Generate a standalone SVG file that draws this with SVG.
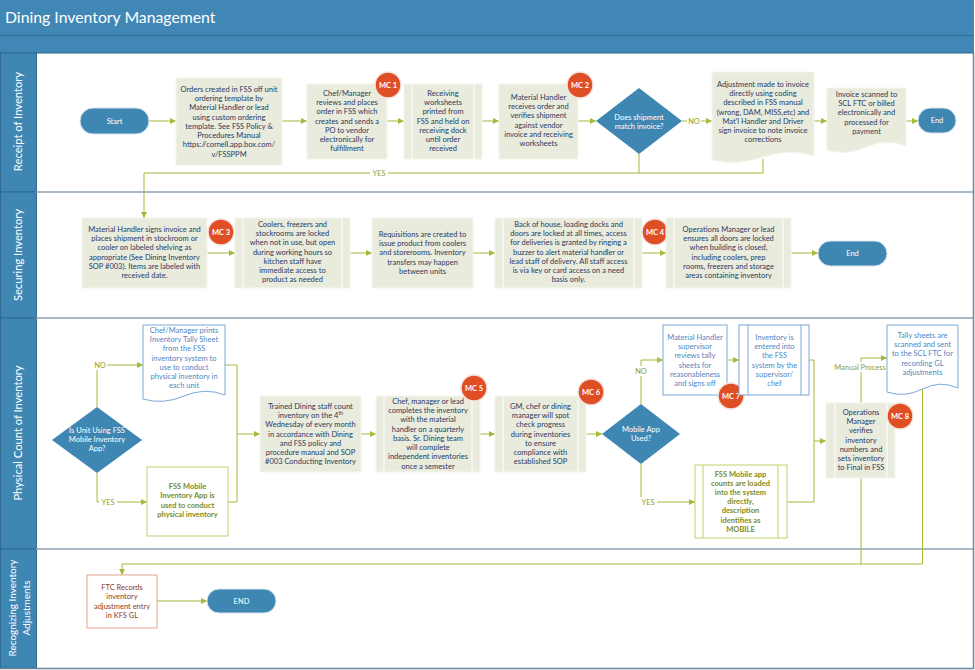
<svg xmlns="http://www.w3.org/2000/svg" width="975" height="670" viewBox="0 0 975 670">
<defs>
<marker id="ah" viewBox="0 0 6 6" refX="6" refY="3" markerWidth="6" markerHeight="6" orient="auto" markerUnits="userSpaceOnUse"><path d="M0,0 L6,3 L0,6 z" fill="#a4ba38"/></marker>
<style>
text{font-family:Lato,"Liberation Sans",sans-serif}
.t{font-size:7.5px;fill:#2c3a5e;text-anchor:middle}
.tw{font-size:7.5px;fill:#fff;text-anchor:middle}
.tb{font-size:7.5px;fill:#4f86bf;text-anchor:middle}
.tg{font-size:7.5px;fill:#7d8c1c;text-anchor:middle;font-weight:bold}
.tr{font-size:7.5px;fill:#8e3a25;text-anchor:middle}
.lbl{font-size:7.5px;fill:#8fa12a;text-anchor:middle}
.box{fill:#e9ebdd;stroke:#f4f5ee;stroke-width:1}
.inw{stroke:#fff;stroke-width:1}
.bbox{fill:#fff;stroke:#7aa8d4;stroke-width:1}
.gbox{fill:#fff;stroke:#c3cf6f;stroke-width:1}
.rbox{fill:#fff;stroke:#e7a48e;stroke-width:1}
.term{fill:#3f87b3;stroke:#d4e3ee;stroke-width:1}
.dia{fill:#3f87b3}
.mc{fill:#e04e26;stroke:#f3e3dc;stroke-width:1.5}
.mct{font-size:7.5px;fill:#fff;text-anchor:middle;font-weight:bold}
.cn{fill:none;stroke:#a4ba38;stroke-width:1}
.lane{fill:#3f87b3;stroke:#2e6a92;stroke-width:1}
.sep{stroke:#8ea2b2;stroke-width:1.5}
.lt{font-size:11.2px;fill:#fff;text-anchor:middle}
.lbg{fill:#fff}
</style>
</defs>
<rect width="975" height="670" fill="#fff"/>
<g id="frame">
<rect x="0" y="0" width="974" height="53" fill="#4187b5"/>
<line x1="0" y1="35.5" x2="974" y2="35.5" stroke="#2e6a92" stroke-width="1"/>
<line x1="0" y1="53" x2="974" y2="53" stroke="#2e6a92" stroke-width="1"/>
<text x="5" y="23" font-size="15.8" fill="#fff">Dining Inventory Management</text>
<rect x="0.5" y="53" width="36" height="139" class="lane"/>
<rect x="0.5" y="192" width="36" height="126" class="lane"/>
<rect x="0.5" y="318" width="36" height="231" class="lane"/>
<rect x="0.5" y="549" width="36" height="119" class="lane"/>
<line x1="36" y1="192" x2="974" y2="192" class="sep"/>
<line x1="36" y1="318" x2="974" y2="318" class="sep"/>
<line x1="36" y1="549" x2="974" y2="549" class="sep"/>
<line x1="973.5" y1="53" x2="973.5" y2="669" stroke="#6b8599" stroke-width="1.5"/>
<line x1="0" y1="668.5" x2="974" y2="668.5" stroke="#6b8599" stroke-width="1.5"/>
<text class="lt" transform="translate(18,121.5) rotate(-90)" y="4">Receipt of Inventory</text>
<text class="lt" transform="translate(18,255) rotate(-90)" y="4">Securing Inventory</text>
<text class="lt" transform="translate(18,433) rotate(-90)" y="4">Physical Count of Inventory</text>
<text class="lt" transform="translate(20,608) rotate(-90)" style="font-size:10px"><tspan x="0" y="-4">Recognizing Inventory</tspan><tspan x="0" y="10">Adjustments</tspan></text>
</g>

<g id="connectors">
<path class="cn" marker-end="url(#ah)" d="M149,121 H176"/>
<path class="cn" marker-end="url(#ah)" d="M282,121 H307"/>
<path class="cn" marker-end="url(#ah)" d="M387,121 H404"/>
<path class="cn" marker-end="url(#ah)" d="M482,121 H499"/>
<path class="cn" marker-end="url(#ah)" d="M578,121 H596"/>
<path class="cn" marker-end="url(#ah)" d="M682,121 H712"/>
<path class="cn" marker-end="url(#ah)" d="M814,121 H827"/>
<path class="cn" marker-end="url(#ah)" d="M906,121 H918"/>
<path class="cn" d="M639,154 V173"/>
<path class="cn" marker-end="url(#ah)" d="M763,159 V173 H144 V218"/>
<path class="cn" marker-end="url(#ah)" d="M207,253 H235"/>
<path class="cn" marker-end="url(#ah)" d="M350,253 H372"/>
<path class="cn" marker-end="url(#ah)" d="M473,253 H495"/>
<path class="cn" marker-end="url(#ah)" d="M642,253 H666"/>
<path class="cn" marker-end="url(#ah)" d="M791,253 H818"/>
<path class="cn" marker-end="url(#ah)" d="M97,407 V365 H143"/>
<path class="cn" marker-end="url(#ah)" d="M97,473 V502 H147"/>
<path class="cn" d="M225,365 H237 V502 H228"/>
<path class="cn" marker-end="url(#ah)" d="M237,434 H260"/>
<path class="cn" marker-end="url(#ah)" d="M361,434 H376"/>
<path class="cn" marker-end="url(#ah)" d="M480,434 H495"/>
<path class="cn" marker-end="url(#ah)" d="M586,434 H602"/>
<path class="cn" marker-end="url(#ah)" d="M641,404 V360 H663"/>
<path class="cn" marker-end="url(#ah)" d="M641,464 V502 H695"/>
<path class="cn" marker-end="url(#ah)" d="M727,360 H739"/>
<path class="cn" d="M809,360 H814 V502 H787"/>
<path class="cn" marker-end="url(#ah)" d="M814,441 H826"/>
<path class="cn" marker-end="url(#ah)" d="M861,403 V358 H887"/>
<path class="cn" d="M861,478 V564"/>
<path class="cn" marker-end="url(#ah)" d="M922.5,389 V564 H122 V575"/>
<path class="cn" marker-end="url(#ah)" d="M157,601 H207"/>
<rect class="lbg" x="687" y="116" width="14" height="10"/>
<text class="lbl" x="694" y="123.6">NO</text>
<rect class="lbg" x="370" y="168" width="18" height="10"/>
<text class="lbl" x="379" y="175.6">YES</text>
<rect class="lbg" x="93" y="360" width="14" height="10"/>
<text class="lbl" x="100" y="367.6">NO</text>
<rect class="lbg" x="99" y="497" width="18" height="10"/>
<text class="lbl" x="108" y="504.6">YES</text>
<rect class="lbg" x="634" y="366" width="14" height="10"/>
<text class="lbl" x="641" y="373.6">NO</text>
<rect class="lbg" x="639" y="497" width="18" height="10"/>
<text class="lbl" x="648" y="504.6">YES</text>
<rect class="lbg" x="832" y="362" width="56" height="10"/>
<text class="lbl" x="860" y="369.6">Manual Process</text>
</g>

<g id="start">
<rect class="term" x="80" y="108" width="69" height="26" rx="13"/>
<text class="tw" x="114.5" y="123.6">Start</text>
</g>
<g id="orders">
<rect class="box" x="176" y="78" width="106" height="87"/>
<text class="t" y="91.6"><tspan x="229">Orders created in FSS off unit</tspan><tspan x="229" dy="9.3">ordering template by</tspan><tspan x="229" dy="9.3">Material Handler or lead</tspan><tspan x="229" dy="9.3">using custom ordering</tspan><tspan x="229" dy="9.3">template. See FSS Policy &amp;</tspan><tspan x="229" dy="9.3">Procedures Manual</tspan><tspan x="229" dy="9.3">https://cornell.app.box.com/</tspan><tspan x="229" dy="9.3">v/FSSPPM</tspan></text>
</g>
<g id="chef-order">
<rect class="box" x="307" y="84" width="80" height="75"/>
<text class="t" y="95.6"><tspan x="347">Chef/Manager</tspan><tspan x="347" dy="9.3">reviews and places</tspan><tspan x="347" dy="9.3">order in FSS which</tspan><tspan x="347" dy="9.3">creates and sends a</tspan><tspan x="347" dy="9.3">PO to vendor</tspan><tspan x="347" dy="9.3">electronically for</tspan><tspan x="347" dy="9.3">fulfillment</tspan></text>
</g>
<g id="mc1"><circle class="mc" cx="388" cy="85" r="13"/><text class="mct" x="388" y="87.6">MC 1</text></g>
<g id="receiving">
<rect class="box" x="404" y="84" width="78" height="75"/>
<line class="inw" x1="412" y1="84" x2="412" y2="159"/><line class="inw" x1="474" y1="84" x2="474" y2="159"/>
<text class="t" y="95.6"><tspan x="443">Receiving</tspan><tspan x="443" dy="9.3">worksheets</tspan><tspan x="443" dy="9.3">printed from</tspan><tspan x="443" dy="9.3">FSS and held on</tspan><tspan x="443" dy="9.3">receiving dock</tspan><tspan x="443" dy="9.3">until order</tspan><tspan x="443" dy="9.3">received</tspan></text>
</g>
<g id="mh-receives">
<rect class="box" x="499" y="84" width="79" height="75"/>
<text class="t" y="99.6"><tspan x="538.5">Material Handler</tspan><tspan x="538.5" dy="9.3">receives order and</tspan><tspan x="538.5" dy="9.3">verifies shipment</tspan><tspan x="538.5" dy="9.3">against vendor</tspan><tspan x="538.5" dy="9.3">invoice and receiving</tspan><tspan x="538.5" dy="9.3">worksheets</tspan></text>
</g>
<g id="mc2"><circle class="mc" cx="580" cy="85" r="13"/><text class="mct" x="580" y="87.6">MC 2</text></g>
<g id="match">
<polygon class="dia" points="596,121 639,88 682,121 639,154"/>
<text class="tw" y="119.6"><tspan x="639">Does shipment</tspan><tspan x="639" dy="9">match invoice?</tspan></text>
</g>
<g id="adjustment">
<path class="box" d="M712,72 H814 V156 Q788.5,148 763,157 T712,160 Z"/>
<text class="t" y="86.6"><tspan x="763">Adjustment made to invoice</tspan><tspan x="763" dy="9.3">directly using coding</tspan><tspan x="763" dy="9.3">described in FSS manual</tspan><tspan x="763" dy="9.3">(wrong, DAM, MISS,etc) and</tspan><tspan x="763" dy="9.3">Mat'l Handler and Driver</tspan><tspan x="763" dy="9.3">sign invoice to note invoice</tspan><tspan x="763" dy="9.3">corrections</tspan></text>
</g>
<g id="invoice-scanned">
<path class="box" d="M827,88 H906 V146 Q886.25,138 866.5,147 T827,150 Z"/>
<text class="t" y="96.6"><tspan x="866.5">Invoice scanned to</tspan><tspan x="866.5" dy="9.3">SCL FTC or billed</tspan><tspan x="866.5" dy="9.3">electronically and</tspan><tspan x="866.5" dy="9.3">processed for</tspan><tspan x="866.5" dy="9.3">payment</tspan></text>
</g>
<g id="end1">
<rect class="term" x="918" y="108" width="38" height="25" rx="12.5"/>
<text class="tw" x="937" y="123.1">End</text>
</g>

<g id="mh-signs">
<rect class="box" x="82" y="218" width="125" height="70"/>
<text class="t" y="231.6"><tspan x="144.5">Material Handler signs invoice and</tspan><tspan x="144.5" dy="9.3">places shipment in stockroom or</tspan><tspan x="144.5" dy="9.3">cooler on labeled shelving as</tspan><tspan x="144.5" dy="9.3">appropriate (See Dining Inventory</tspan><tspan x="144.5" dy="9.3">SOP #003).  Items are labeled with</tspan><tspan x="144.5" dy="9.3">received date.</tspan></text>
</g>
<g id="mc3"><circle class="mc" cx="221" cy="232" r="13"/><text class="mct" x="221" y="234.6">MC 3</text></g>
<g id="coolers">
<rect class="box" x="235" y="218" width="115" height="70"/>
<line class="inw" x1="243" y1="218" x2="243" y2="288"/><line class="inw" x1="342" y1="218" x2="342" y2="288"/>
<text class="t" y="226.6"><tspan x="292.5">Coolers, freezers and</tspan><tspan x="292.5" dy="9.3">stockrooms are locked</tspan><tspan x="292.5" dy="9.3">when not in use, but open</tspan><tspan x="292.5" dy="9.3">during working hours so</tspan><tspan x="292.5" dy="9.3">kitchen staff have</tspan><tspan x="292.5" dy="9.3">immediate access to</tspan><tspan x="292.5" dy="9.3">product as needed</tspan></text>
</g>
<g id="requisitions">
<rect class="box" x="372" y="218" width="101" height="70"/>
<text class="t" y="236.6"><tspan x="422.5">Requisitions are created to</tspan><tspan x="422.5" dy="9.3">issue product from coolers</tspan><tspan x="422.5" dy="9.3">and storerooms.  Inventory</tspan><tspan x="422.5" dy="9.3">transfers may happen</tspan><tspan x="422.5" dy="9.3">between units</tspan></text>
</g>
<g id="back-of-house">
<rect class="box" x="495" y="218" width="147" height="70"/>
<line class="inw" x1="503" y1="218" x2="503" y2="288"/><line class="inw" x1="634" y1="218" x2="634" y2="288"/>
<text class="t" y="226.6"><tspan x="568.5">Back of house, loading docks and</tspan><tspan x="568.5" dy="9.3">doors are locked at all times, access</tspan><tspan x="568.5" dy="9.3">for deliveries is granted by ringing a</tspan><tspan x="568.5" dy="9.3">buzzer to alert material handler or</tspan><tspan x="568.5" dy="9.3">lead staff of delivery.  All staff access</tspan><tspan x="568.5" dy="9.3">is via key or card access on a need</tspan><tspan x="568.5" dy="9.3">basis only.</tspan></text>
</g>
<g id="mc4"><circle class="mc" cx="655" cy="232" r="13"/><text class="mct" x="655" y="234.6">MC 4</text></g>
<g id="ops-doors">
<rect class="box" x="666" y="218" width="125" height="70"/>
<line class="inw" x1="674" y1="218" x2="674" y2="288"/><line class="inw" x1="783" y1="218" x2="783" y2="288"/>
<text class="t" y="231.6"><tspan x="728.5">Operations Manager or lead</tspan><tspan x="728.5" dy="9.3">ensures all doors are locked</tspan><tspan x="728.5" dy="9.3">when building is closed,</tspan><tspan x="728.5" dy="9.3">including coolers, prep</tspan><tspan x="728.5" dy="9.3">rooms, freezers and storage</tspan><tspan x="728.5" dy="9.3">areas containing inventory</tspan></text>
</g>
<g id="end2">
<rect class="term" x="818" y="241" width="69" height="25" rx="12.5"/>
<text class="tw" x="852.5" y="256.1">End</text>
</g>

<g id="tally-print">
<path class="bbox" d="M143,325 H225 V395 Q204.5,387 184,396 T143,399 Z"/>
<text class="tb" y="332.6"><tspan x="184">Chef/Manager prints</tspan><tspan x="184" dy="9.3">Inventory Tally Sheet</tspan><tspan x="184" dy="9.3">from the FSS</tspan><tspan x="184" dy="9.3">inventory system to</tspan><tspan x="184" dy="9.3">use to conduct</tspan><tspan x="184" dy="9.3">physical inventory in</tspan><tspan x="184" dy="9.3">each unit</tspan></text>
</g>
<g id="using-app">
<polygon class="dia" points="52,440 97,407 142,440 97,473"/>
<text class="tw" y="432.6"><tspan x="97">Is Unit Using FSS</tspan><tspan x="97" dy="9">Mobile Inventory</tspan><tspan x="97" dy="9">App?</tspan></text>
</g>
<g id="app-used">
<rect class="gbox" x="147" y="467" width="81" height="69"/>
<text class="tg" y="488.6"><tspan x="187.5">FSS Mobile</tspan><tspan x="187.5" dy="9.6">Inventory App is</tspan><tspan x="187.5" dy="9.6">used to conduct</tspan><tspan x="187.5" dy="9.6">physical inventory</tspan></text>
</g>
<g id="trained-count">
<rect class="box" x="260" y="396" width="101" height="76"/>
<text class="t" y="408.6"><tspan x="310.5">Trained Dining staff count</tspan><tspan x="310.5" dy="9.3">inventory on the 4<tspan font-size="5" baseline-shift="super">th</tspan></tspan><tspan x="310.5" dy="9.3">Wednesday of every month</tspan><tspan x="310.5" dy="9.3">in accordance with Dining</tspan><tspan x="310.5" dy="9.3">and FSS policy and</tspan><tspan x="310.5" dy="9.3">procedure manual and SOP</tspan><tspan x="310.5" dy="9.3">#003 Conducting Inventory</tspan></text>
</g>
<g id="quarterly">
<rect class="box" x="376" y="396" width="104" height="76"/>
<line class="inw" x1="384" y1="396" x2="384" y2="472"/><line class="inw" x1="472" y1="396" x2="472" y2="472"/>
<text class="t" y="403.6"><tspan x="428">Chef, manager or lead</tspan><tspan x="428" dy="9.3">completes the inventory</tspan><tspan x="428" dy="9.3">with the material</tspan><tspan x="428" dy="9.3">handler on a quarterly</tspan><tspan x="428" dy="9.3">basis.  Sr. Dining team</tspan><tspan x="428" dy="9.3">will complete</tspan><tspan x="428" dy="9.3">independent inventories</tspan><tspan x="428" dy="9.3">once a semester</tspan></text>
</g>
<g id="mc5"><circle class="mc" cx="474" cy="388" r="13"/><text class="mct" x="474" y="390.6">MC 5</text></g>
<g id="spot-check">
<rect class="box" x="495" y="396" width="91" height="76"/>
<line class="inw" x1="503" y1="396" x2="503" y2="472"/><line class="inw" x1="578" y1="396" x2="578" y2="472"/>
<text class="t" y="408.6"><tspan x="540.5">GM, chef or dining</tspan><tspan x="540.5" dy="9.3">manager will spot</tspan><tspan x="540.5" dy="9.3">check progress</tspan><tspan x="540.5" dy="9.3">during inventories</tspan><tspan x="540.5" dy="9.3">to ensure</tspan><tspan x="540.5" dy="9.3">compliance with</tspan><tspan x="540.5" dy="9.3">established SOP</tspan></text>
</g>
<g id="mc6"><circle class="mc" cx="591" cy="392" r="13"/><text class="mct" x="591" y="394.6">MC 6</text></g>
<g id="mobile-used">
<polygon class="dia" points="602,434 641,404 680,434 641,464"/>
<text class="tw" y="432"><tspan x="641">Mobile App</tspan><tspan x="641" dy="9.3">Used?</tspan></text>
</g>
<g id="mh-supervisor">
<rect class="bbox" x="663" y="325" width="64" height="70"/>
<text class="tb" y="339.6"><tspan x="695">Material Handler</tspan><tspan x="695" dy="9.3">supervisor</tspan><tspan x="695" dy="9.3">reviews tally</tspan><tspan x="695" dy="9.3">sheets for</tspan><tspan x="695" dy="9.3">reasonableness</tspan><tspan x="695" dy="9.3">and signs off</tspan></text>
</g>
<g id="mc7"><circle class="mc" cx="731" cy="396" r="13"/><text class="mct" x="731" y="398.6">MC 7</text></g>
<g id="entered">
<rect class="bbox" x="739" y="325" width="70" height="70"/>
<line x1="748" y1="325" x2="748" y2="395" stroke="#7aa8d4"/><line x1="801" y1="325" x2="801" y2="395" stroke="#7aa8d4"/>
<text class="tb" y="339.6"><tspan x="774.5">Inventory is</tspan><tspan x="774.5" dy="9.3">entered into</tspan><tspan x="774.5" dy="9.3">the FSS</tspan><tspan x="774.5" dy="9.3">system by the</tspan><tspan x="774.5" dy="9.3">supervisor/</tspan><tspan x="774.5" dy="9.3">chef</tspan></text>
</g>
<g id="mobile-loaded">
<rect class="gbox" x="695" y="465" width="92" height="73"/>
<line x1="703" y1="465" x2="703" y2="538" stroke="#c3cf6f"/><line x1="778" y1="465" x2="778" y2="538" stroke="#c3cf6f"/>
<text class="tg" y="476.6"><tspan x="740.5">FSS Mobile app</tspan><tspan x="740.5" dy="9.2">counts are loaded</tspan><tspan x="740.5" dy="9.2">into the system</tspan><tspan x="740.5" dy="9.2">directly,</tspan><tspan x="740.5" dy="9.2">description</tspan><tspan x="740.5" dy="9.2">identifies as</tspan><tspan x="740.5" dy="9.2">MOBILE</tspan></text>
</g>
<g id="ops-verifies">
<rect class="box" x="826" y="403" width="69" height="75"/>
<line class="inw" x1="835" y1="403" x2="835" y2="478"/><line class="inw" x1="887" y1="403" x2="887" y2="478"/>
<text class="t" y="414.6"><tspan x="861">Operations</tspan><tspan x="861" dy="9.3">Manager</tspan><tspan x="861" dy="9.3">verifies</tspan><tspan x="861" dy="9.3">inventory</tspan><tspan x="861" dy="9.3">numbers and</tspan><tspan x="861" dy="9.3">sets inventory</tspan><tspan x="861" dy="9.3">to Final in FSS</tspan></text>
</g>
<g id="mc8"><circle class="mc" cx="900" cy="416" r="13"/><text class="mct" x="900" y="418.6">MC 8</text></g>
<g id="tally-scanned">
<path class="bbox" d="M887,325 H958 V388 Q940.25,380 922.5,389 T887,392 Z"/>
<text class="tb" y="337.6"><tspan x="922.5">Tally sheets are</tspan><tspan x="922.5" dy="9.3">scanned and sent</tspan><tspan x="922.5" dy="9.3">to the SCL FTC for</tspan><tspan x="922.5" dy="9.3">recording GL</tspan><tspan x="922.5" dy="9.3">adjustments</tspan></text>
</g>

<g id="ftc-records">
<rect class="rbox" x="87" y="575" width="70" height="53"/>
<text class="tr" y="589.6"><tspan x="122">FTC Records</tspan><tspan x="122" dy="9.5">inventory</tspan><tspan x="122" dy="9.5">adjustment entry</tspan><tspan x="122" dy="9.5">in KFS GL</tspan></text>
</g>
<g id="end3">
<rect class="term" x="207" y="589" width="69" height="24" rx="12"/>
<text class="tw" x="241.5" y="603.6">END</text>
</g>
</svg>
